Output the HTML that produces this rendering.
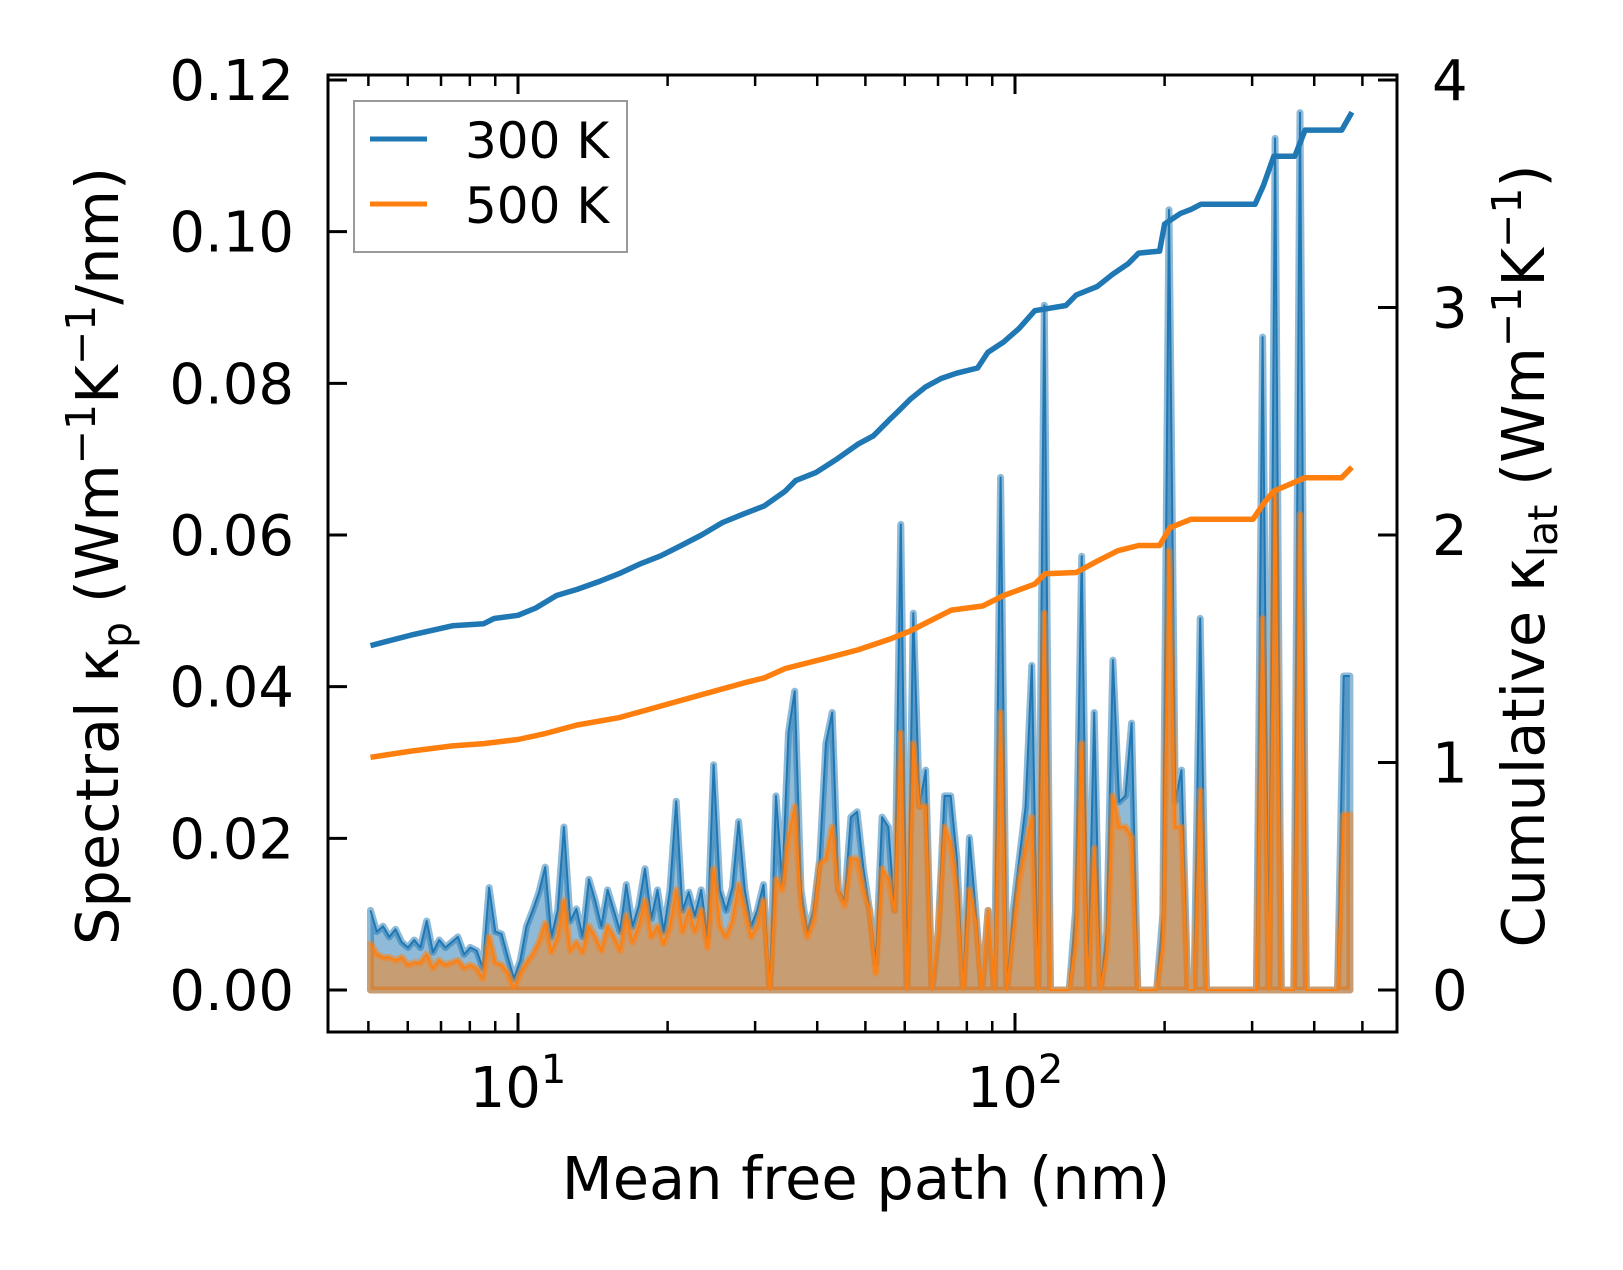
<!DOCTYPE html>
<html><head><meta charset="utf-8"><style>
html,body{margin:0;padding:0;background:#fff;}
svg{display:block;font-family:"DejaVu Sans","Liberation Sans",sans-serif;}
</style></head><body>
<svg id="chart" width="1623" height="1270" viewBox="0 0 1623 1270" xmlns="http://www.w3.org/2000/svg">
<g id="plot"></g>
<g id="axes"></g>
</svg>
<script>
// ---- data ----
const binFirst = 5.05;   // first bin center (nm)
const binLast = 472;     // last bin center (nm)
const spec300 = [0.0105,0.0077,0.0084,0.0070,0.0080,0.0063,0.0056,0.0066,0.0056,0.0091,0.0050,0.0066,0.0056,0.0063,0.0070,0.0047,0.0056,0.0052,0.0029,0.0135,0.0077,0.0074,0.0043,0.0015,0.0039,0.0084,0.0105,0.0129,0.0162,0.0070,0.0105,0.0215,0.0091,0.0107,0.0070,0.0146,0.0118,0.0084,0.0132,0.0105,0.0077,0.0139,0.0084,0.0111,0.0160,0.0094,0.0132,0.0077,0.0132,0.0249,0.0105,0.0129,0.0098,0.0132,0.0070,0.0297,0.0132,0.0105,0.0135,0.0222,0.0132,0.0084,0.0105,0.0139,0,0.0256,0.0140,0.0340,0.0394,0.0132,0.0077,0.0105,0.0173,0.0325,0.0366,0.0132,0.0118,0.0228,0.0235,0.0160,0.0105,0.0036,0.0228,0.0215,0.0105,0.0614,0,0.0497,0.0242,0.0290,0,0.0077,0.0256,0.0256,0.0173,0,0.0201,0.0105,0,0.0105,0,0.0676,0,0.0105,0.0173,0.0242,0.0428,0,0.0903,0,0,0,0,0.0105,0.0572,0,0.0366,0,0.0077,0.0435,0.0248,0.0256,0.0352,0,0,0,0,0.0100,0.1029,0.0249,0.0290,0,0,0.0490,0,0,0,0,0,0,0,0,0,0.0861,0,0.1123,0,0,0,0.1157,0,0,0,0,0,0,0.0414,0.0414];
const spec500 = [0.0061,0.0047,0.0043,0.0043,0.0039,0.0043,0.0033,0.0036,0.0036,0.0047,0.0029,0.0039,0.0033,0.0036,0.0039,0.0029,0.0033,0.0028,0.0015,0.0070,0.0036,0.0033,0.0022,0.0001,0.0022,0.0036,0.0047,0.0063,0.0088,0.0050,0.0070,0.0118,0.0052,0.0063,0.0050,0.0084,0.0070,0.0052,0.0084,0.0070,0.0052,0.0098,0.0063,0.0084,0.0118,0.0070,0.0084,0.0061,0.0084,0.0132,0.0077,0.0105,0.0077,0.0105,0.0056,0.0160,0.0084,0.0070,0.0091,0.0139,0.0105,0.0070,0.0084,0.0118,0,0.0146,0.0132,0.0200,0.0242,0.0111,0.0070,0.0091,0.0166,0.0173,0.0215,0.0132,0.0111,0.0173,0.0173,0.0132,0.0105,0.0022,0.0160,0.0146,0.0105,0.0339,0,0.0325,0.0242,0.0242,0,0.0077,0.0215,0.0194,0.0132,0,0.0132,0.0091,0,0.0105,0,0.0366,0,0.0077,0.0146,0.0187,0.0228,0,0.0497,0,0,0,0,0.0063,0.0325,0,0.0187,0,0.0050,0.0256,0.0215,0.0215,0.0201,0,0,0,0,0.0060,0.0579,0.0215,0.0215,0,0,0.0263,0,0,0,0,0,0,0,0,0,0.0490,0,0.0655,0,0,0,0.0627,0,0,0,0,0,0,0.0231,0.0231];
const cumMfp300 = [5.05,6.09,7.38,8.53,8.95,10.0,10.86,11.95,13.15,14.49,15.96,17.57,19.35,21.3,23.4,25.8,28.4,31.3,34.5,36.2,39.8,43.9,48.3,51.9,55.8,58.6,61.5,66.1,71.0,76.3,84.1,88.2,94.9,101.9,109.6,126.6,132.8,146.3,157.3,169.0,177.4,195.4,200,215.2,225.9,236.7,304.1,316.2,331.7,365.6,383.5,454.2,476.3];
const cum300 = [1.514,1.560,1.601,1.610,1.633,1.647,1.679,1.734,1.761,1.794,1.830,1.872,1.908,1.954,2.000,2.055,2.092,2.128,2.193,2.239,2.275,2.335,2.399,2.436,2.505,2.550,2.596,2.651,2.688,2.711,2.734,2.803,2.849,2.908,2.986,3.009,3.055,3.092,3.147,3.193,3.239,3.248,3.367,3.413,3.431,3.454,3.454,3.537,3.665,3.665,3.780,3.780,3.858];
const cumMfp500 = [5.05,6.09,7.38,8.53,10.0,11.38,13.15,15.96,19.35,23.4,28.4,31.3,34.5,41.8,48.3,55.8,61.5,67.7,74.5,86.1,94.9,109.6,115.0,132.8,146.3,161.1,177.4,195.4,205.0,225.9,301.2,316.2,331.7,383.5,454.2,476.3];
const cum500 = [1.023,1.050,1.073,1.083,1.101,1.128,1.165,1.197,1.248,1.298,1.349,1.372,1.413,1.459,1.495,1.541,1.578,1.624,1.670,1.688,1.734,1.784,1.830,1.835,1.885,1.931,1.954,1.954,2.032,2.069,2.069,2.138,2.193,2.252,2.252,2.298];
const leftTicks = [0,0.02,0.04,0.06,0.08,0.10,0.12];
const leftTickLabels = ["0.00","0.02","0.04","0.06","0.08","0.10","0.12"];
const rightTicks = [0,1,2,3,4];
const rightTickLabels = ["0","1","2","3","4"];
const xMajor = [10,100];
const xMajorExp = ["1","2"];
const xMinor = [5,6,7,8,9,20,30,40,50,60,70,80,90,200,300,400,500];

// ---- layout ----
const L=328,R=1397,T=75,B=1032;
const Y0=990,Y1=80;
const X10=518, DEC=497;
const xs = m => X10 + DEC*(Math.log10(m)-1);
const yl = v => Y0 - (Y0-Y1)*v/0.12;
const yr = v => Y0 - (Y0-Y1)*v/4;
const NS="http://www.w3.org/2000/svg";
function mk(tag, parent, attrs){const e=document.createElementNS(NS,tag);for(const k in attrs)e.setAttribute(k,attrs[k]);parent.appendChild(e);return e;}
const plot=document.getElementById('plot'), axes=document.getElementById('axes');

const n=spec300.length;
const lf=Math.log10(binFirst), ll=Math.log10(binLast);
const binX = i => xs(Math.pow(10, lf+(ll-lf)*i/(n-1)));

function spectral(vals, color, name){
  let d='M'+binX(0)+','+Y0;
  let l='';
  vals.forEach((v,i)=>{d+=' L'+binX(i).toFixed(1)+','+yl(v).toFixed(1); l+=(i?' L':'M')+binX(i).toFixed(1)+','+yl(v).toFixed(1);});
  d+=' L'+binX(n-1)+','+Y0+' Z';
  const f=mk('path',plot,{d:d,fill:color,'fill-opacity':0.5,stroke:color,'stroke-opacity':0.5,'stroke-width':7,'stroke-linejoin':'round'});
  
  
  const p=mk('path',plot,{d:l,fill:'none',stroke:color,'stroke-width':2,'stroke-linejoin':'round'});
  
  
}
spectral(spec300,'#1f77b4','spectral-300k');
spectral(spec500,'#ff7f0e','spectral-500k');

function cum(ms, vs, color, name){
  let d='';
  ms.forEach((m,i)=>{d+=(i?' L':'M')+xs(m).toFixed(1)+','+yr(vs[i]).toFixed(1);});
  const p=mk('path',plot,{d:d,fill:'none',stroke:color,'stroke-width':5.5,'stroke-linejoin':'round'});
  
  
}
cum(cumMfp300,cum300,'#1f77b4','cumulative-300k');
cum(cumMfp500,cum500,'#ff7f0e','cumulative-500k');

// frame
const fr=mk('rect',axes,{x:L,y:T,width:R-L,height:B-T,fill:'none',stroke:'#000','stroke-width':3});



// x ticks
xMajor.forEach((m,i)=>{
  const x=xs(m);
  mk('line',axes,{x1:x,y1:B,x2:x,y2:B-19,stroke:'#000','stroke-width':3});
  mk('line',axes,{x1:x,y1:T,x2:x,y2:T+19,stroke:'#000','stroke-width':3});
  const t=mk('text',axes,{x:x,y:1107,'font-size':56,'text-anchor':'middle'});
  
  
  t.innerHTML='10<tspan dy="-24" font-size="40">'+xMajorExp[i]+'</tspan>';
});
xMinor.forEach(m=>{
  const x=xs(m);
  mk('line',axes,{x1:x,y1:B,x2:x,y2:B-11,stroke:'#000','stroke-width':2.5});
  mk('line',axes,{x1:x,y1:T,x2:x,y2:T+11,stroke:'#000','stroke-width':2.5});
});
// left ticks
leftTicks.forEach((v,i)=>{
  const y=yl(v);
  mk('line',axes,{x1:L,y1:y,x2:L+19,y2:y,stroke:'#000','stroke-width':3});
  const t=mk('text',axes,{x:294,y:y+20,'font-size':56,'text-anchor':'end'});
  
  
  t.textContent=leftTickLabels[i];
});
// right ticks
rightTicks.forEach((v,i)=>{
  const y=yr(v);
  mk('line',axes,{x1:R,y1:y,x2:R-19,y2:y,stroke:'#000','stroke-width':3});
  const t=mk('text',axes,{x:1432,y:y+20,'font-size':56,'text-anchor':'start'});
  
  
  t.textContent=rightTickLabels[i];
});
</script>
<svg style="position:absolute;left:0;top:0" width="1623" height="1270" xmlns="http://www.w3.org/2000/svg" font-family="DejaVu Sans, Liberation Sans, sans-serif">
  <text x="866" y="1199" font-size="59" text-anchor="middle">Mean free path (nm)</text>
  <text transform="translate(118,556) rotate(-90)" font-size="59" text-anchor="middle">Spectral κ<tspan dy="13" font-size="41">p</tspan><tspan dy="-13"> (Wm</tspan><tspan dy="-23" font-size="41">−1</tspan><tspan dy="23">K</tspan><tspan dy="-23" font-size="41">−1</tspan><tspan dy="23">/nm)</tspan></text>
  <text transform="translate(1544,556) rotate(-90)" font-size="59" text-anchor="middle">Cumulative κ<tspan dy="13" font-size="41">lat</tspan><tspan dy="-13"> (Wm</tspan><tspan dy="-23" font-size="41">−1</tspan><tspan dy="23">K</tspan><tspan dy="-23" font-size="41">−1</tspan><tspan dy="23">)</tspan></text>
  <g>
    <rect x="354" y="101" width="273" height="151" fill="#fff" fill-opacity="0.8" stroke="#999" stroke-width="2"/>
    <line x1="370" y1="139" x2="427" y2="139" stroke="#1f77b4" stroke-width="5"/>
    <text x="465" y="158" font-size="50">300 K</text>
    <line x1="370" y1="204" x2="427" y2="204" stroke="#ff7f0e" stroke-width="5"/>
    <text x="465" y="223" font-size="50">500 K</text>
  </g>
</svg>
</body></html>
